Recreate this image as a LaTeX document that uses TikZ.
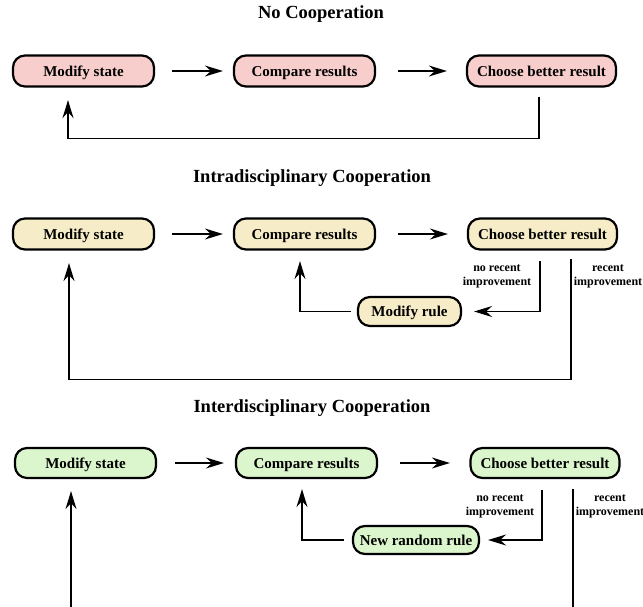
\documentclass[tikz,border=0pt]{standalone}
\usepackage{fontspec}
\setmainfont{Liberation Serif}
\usetikzlibrary{arrows.meta,calc}
\definecolor{pinkf}{HTML}{F8CECC}
\definecolor{yelf}{HTML}{F6EDC8}
\definecolor{grnf}{HTML}{DBF5CD}
\begin{document}
\begin{tikzpicture}[x=1pt,y=-1pt,
  box/.style={draw, line width=2.2pt, rounded corners=12pt, inner sep=0pt,
    font=\bfseries\fontsize{15}{18}\selectfont, minimum height=31pt,
    text height=10.5pt, text depth=0.5pt},
  conn/.style={line width=1.2pt, -{Stealth[length=18pt,width=11pt,inset=6pt]}},
  title/.style={font=\bfseries\fontsize{18.5}{22}\selectfont},
  lab/.style={font=\bfseries\fontsize{12}{14}\selectfont, align=center}]
\useasboundingbox (0,0) rectangle (643,606);
\clip (0,0) rectangle (643,606);
% Row 1
\node[title] (t1) at (321,14) {No Cooperation};
\node[box, fill=pinkf, minimum width=141pt] (m1) at (83.5,71) {Modify state};
\node[box, fill=pinkf, minimum width=141pt] (c1) at (304.5,71) {Compare results};
\node[box, fill=pinkf, minimum width=149pt] (b1) at (541.5,71) {Choose better result};
\draw[conn] ([xshift=17pt]m1.east) -- ([xshift=-10pt]c1.west);
\draw[conn] ([xshift=22pt]c1.east) -- ([xshift=-19pt]b1.west);
\draw[conn] ([xshift=-2.5pt,yshift=-9pt]b1.south) -- ++(0,42) -| ([xshift=-15.5pt,yshift=-12.5pt]m1.south);
% Row 2
\node[title] (t2) at (312,178) {Intradisciplinary Cooperation};
\node[box, fill=yelf, minimum width=141pt] (m2) at (83.5,234) {Modify state};
\node[box, fill=yelf, minimum width=141pt] (c2) at (304.5,234) {Compare results};
\node[box, fill=yelf, minimum width=149pt] (b2) at (542.5,234) {Choose better result};
\node[box, fill=yelf, minimum width=103pt, minimum height=29pt] (r2) at (409.5,311.5) {Modify rule};
\draw[conn] ([xshift=17pt]m2.east) -- ([xshift=-10pt]c2.west);
\draw[conn] ([xshift=22pt]c2.east) -- ([xshift=-19pt]b2.west);
\draw[conn] ([xshift=-2.5pt,yshift=-10.5pt]b2.south) |- ([xshift=12pt]r2.east);
\draw[conn] ([xshift=-6pt]r2.west) -| ([xshift=-4.5pt,yshift=-10.5pt]c2.south);
\draw[conn] ([xshift=28.5pt,yshift=-8.5pt]b2.south) -- ++(0,120) -| ([xshift=-14.5pt,yshift=-12.5pt]m2.south);
\node[lab] (l2a) at (497,276) {no recent\\improvement};
\node[lab] (l2b) at (608,276) {recent\\improvement};
% Row 3
\node[title] (t3) at (312,408) {Interdisciplinary Cooperation};
\node[box, fill=grnf, minimum width=141pt, minimum height=30pt] (m3) at (85.5,463) {Modify state};
\node[box, fill=grnf, minimum width=141pt, minimum height=30pt] (c3) at (306.5,463) {Compare results};
\node[box, fill=grnf, minimum width=149pt, minimum height=30pt] (b3) at (545,463) {Choose better result};
\node[box, fill=grnf, minimum width=126pt, minimum height=28pt] (n3) at (416,540) {New random rule};
\draw[conn] ([xshift=18pt]m3.east) -- ([xshift=-11pt]c3.west);
\draw[conn] ([xshift=22pt]c3.east) -- ([xshift=-19.5pt]b3.west);
\draw[conn] ([xshift=-3pt,yshift=-11pt]b3.south) |- ([xshift=8pt]n3.east);
\draw[conn] ([xshift=-8pt]n3.west) -| ([xshift=-4.5pt,yshift=-10pt]c3.south);
\draw[conn] ([xshift=28pt,yshift=-10pt]b3.south) -- ++(0,150) -| ([xshift=-14.5pt,yshift=-12pt]m3.south);
\node[lab] (l3a) at (500,506) {no recent\\improvement};
\node[lab] (l3b) at (610,506) {recent\\improvement};
\end{tikzpicture}
\end{document}
